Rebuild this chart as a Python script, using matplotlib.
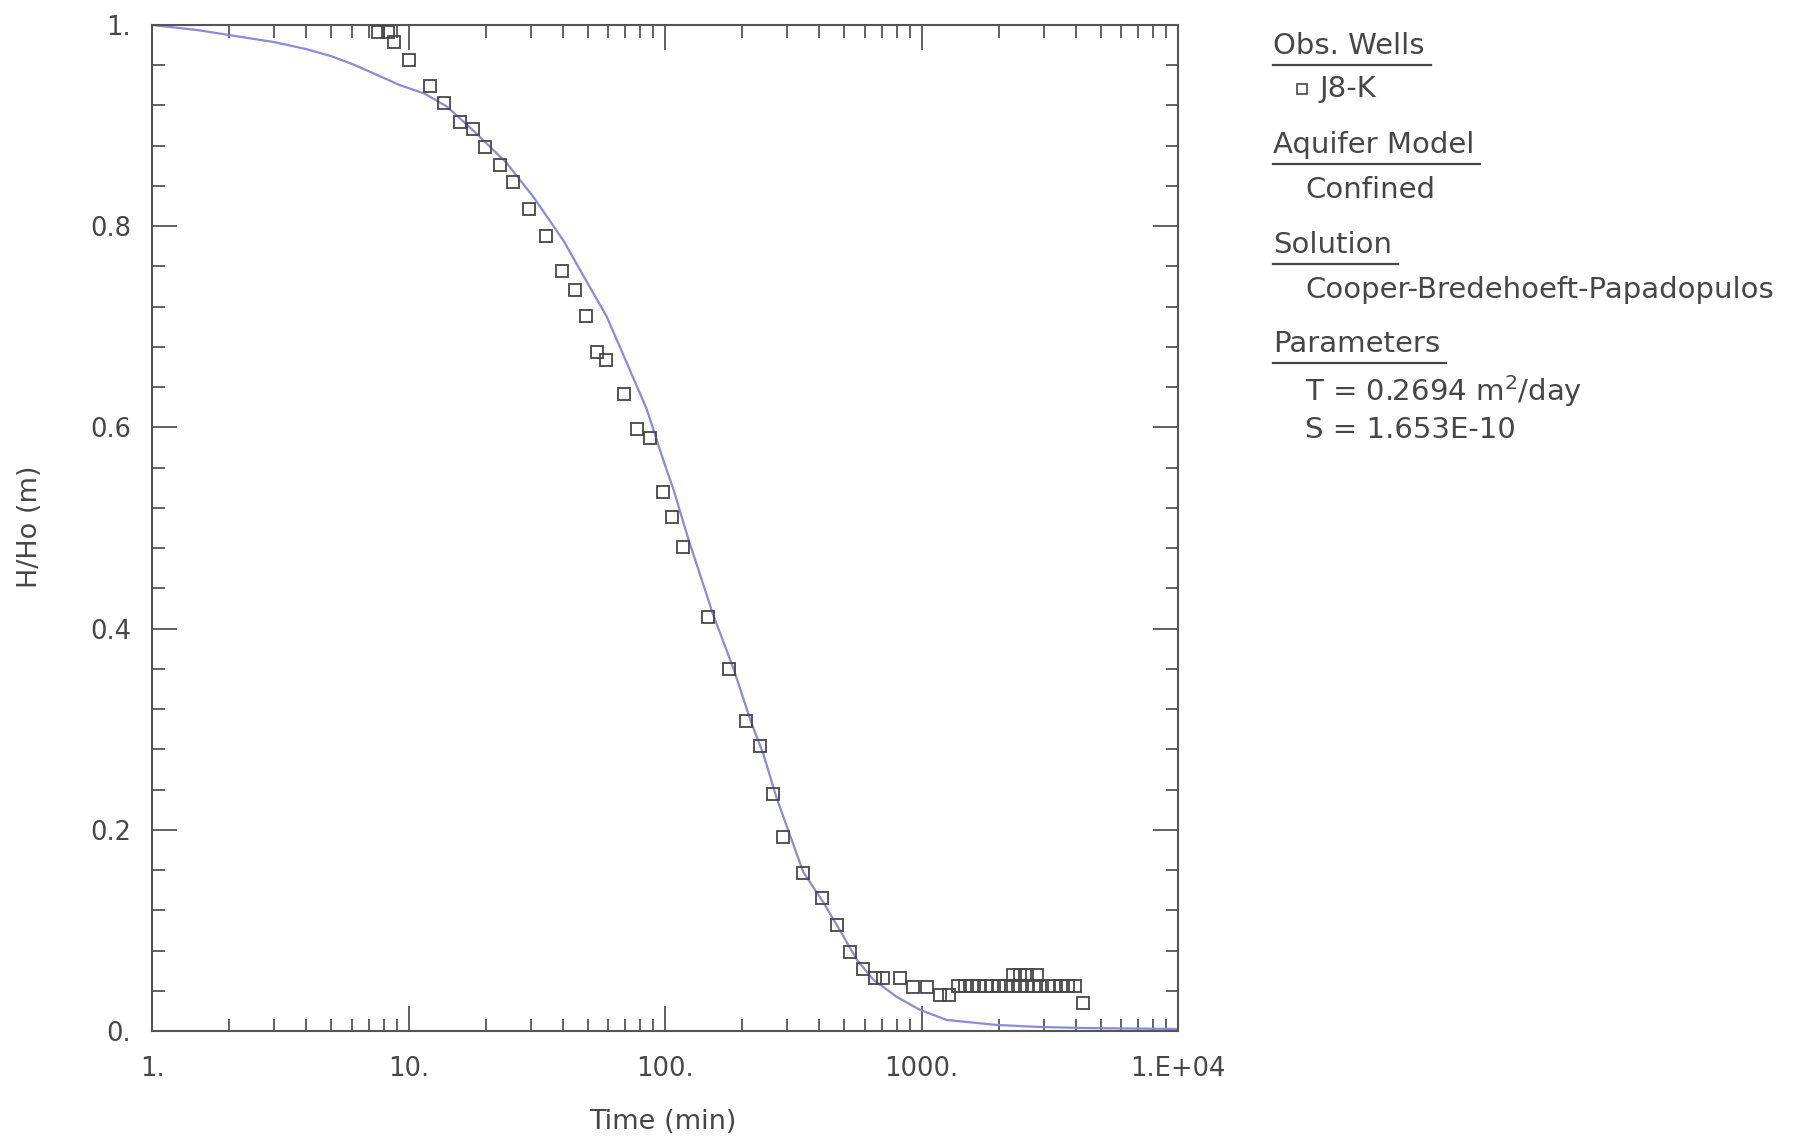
import numpy as np
import matplotlib
matplotlib.use("Agg")
import matplotlib.pyplot as plt
from matplotlib.ticker import LogLocator, NullFormatter, MultipleLocator, FixedLocator
from matplotlib.lines import Line2D

# ---------------- data ----------------
# observed well J8-K: time (min), H/Ho (m)
t_obs = [7.6, 8.3, 8.8, 10.0, 12.1, 13.8, 15.9, 17.9, 19.9, 22.8, 25.5, 29.5,
         34.5, 39.5, 44.6, 49.1, 54.3, 58.9, 69.0, 77.5, 87.6, 98.5, 106.5, 118,
         147.5, 177, 207.5, 234, 264, 289, 344, 408, 470, 526, 590, 659, 710, 825,
         929, 1048, 1180, 1283,
         1390, 1480, 1570, 1670, 1780, 1890, 2010, 2140, 2270, 2420, 2570, 2740,
         2910, 3100, 3290, 3500, 3730, 3960,
         2280, 2420, 2580, 2820,
         4250]
h_obs = [0.993, 0.993, 0.983, 0.965, 0.939, 0.922, 0.904, 0.897, 0.879, 0.861, 0.844, 0.817,
         0.790, 0.755, 0.737, 0.711, 0.675, 0.667, 0.633, 0.598, 0.589, 0.536, 0.511, 0.481,
         0.412, 0.360, 0.308, 0.283, 0.236, 0.193, 0.157, 0.132, 0.105, 0.079, 0.062, 0.053, 0.053, 0.053,
         0.044, 0.044, 0.036, 0.036,
         0.045, 0.045, 0.045, 0.045, 0.045, 0.045, 0.045, 0.045, 0.045, 0.045, 0.045, 0.045,
         0.045, 0.045, 0.045, 0.045, 0.045, 0.045,
         0.056, 0.056, 0.056, 0.056,
         0.0275]

# Cooper-Bredehoeft-Papadopulos fitted curve
t_fit = [1.0, 1.5, 2.0, 3.0, 4.0, 5.0, 6.2, 7.6, 9.3, 11.5, 14.1, 17.9, 24.1, 30.7,
         40.1, 49.5, 59.3, 71.0, 84.9, 98.6, 108, 123, 154, 185, 216, 242, 272,
         322, 346, 414, 481, 559, 649, 800, 986, 1253, 1963, 2900, 4270, 10000]
h_fit = [1.000, 0.995, 0.990, 0.983, 0.976, 0.969, 0.960, 0.950, 0.940, 0.932, 0.919, 0.895,
         0.863, 0.829, 0.786, 0.745, 0.710, 0.664, 0.618, 0.567, 0.538, 0.490, 0.414, 0.360,
         0.308, 0.275, 0.232, 0.180, 0.158, 0.128, 0.100, 0.071, 0.051, 0.034, 0.021, 0.011,
         0.006, 0.004, 0.003, 0.002]

x_ticks = [1, 10, 100, 1000, 10000]
x_ticklabels = ["1.", "10.", "100.", "1000.", "1.E+04"]
y_ticks = [0.0, 0.2, 0.4, 0.6, 0.8, 1.0]
y_ticklabels = ["0.", "0.2", "0.4", "0.6", "0.8", "1."]

legend_headers = ["Obs. Wells", "Aquifer Model", "Solution", "Parameters"]
well_name = "J8-K"
aquifer_model = "Confined"
solution_name = "Cooper-Bredehoeft-Papadopulos"
param_lines = ["T = 0.2694 m$^2$/day", "S = 1.653E-10"]

# ---------------- figure ----------------
W, H = 1793, 1147
plt.rcParams['font.family'] = ['DejaVu Sans']
fig = plt.figure(figsize=(W / 100, H / 100), dpi=100)
fig.patch.set_facecolor('white')

L, R, T, B = 152, 1178, 25, 1031
ax = fig.add_axes([L / W, 1 - B / H, (R - L) / W, (B - T) / H])
ax.set_xscale('log')
ax.set_xlim(1, 1e4)
ax.set_ylim(0, 1)

axc = '#555555'
txtc = '#464646'

ax.plot(t_fit, h_fit, color='#8b8bd6', lw=1.6, zorder=2)
ax.plot(t_obs, h_obs, ls='none', marker='s', ms=8.6, mfc='none',
        mec='#474747', mew=1.3, clip_on=False, zorder=3)

ax.xaxis.set_major_locator(FixedLocator(x_ticks))
ax.set_xticklabels(x_ticklabels)
ax.xaxis.set_minor_locator(LogLocator(base=10, subs=range(2, 10), numticks=20))
ax.xaxis.set_minor_formatter(NullFormatter())
ax.set_yticks(y_ticks)
ax.set_yticklabels(y_ticklabels)
ax.yaxis.set_minor_locator(MultipleLocator(0.04))

ax.tick_params(which='both', direction='in', top=True, right=True,
               color=axc, labelcolor=txtc, labelsize=18.5)
ax.tick_params(which='major', length=18, width=1.3)
ax.tick_params(which='minor', length=9, width=1.3)
ax.tick_params(axis='x', which='major', pad=18)
ax.tick_params(axis='y', which='major', pad=15)
for s in ax.spines.values():
    s.set_color(axc)
    s.set_linewidth(1.5)

# axis labels
fig.text(663 / W, 1 - 1122 / H, "Time (min)", ha='center', va='center',
         fontsize=19.5, color=txtc)
fig.text(30 / W, 1 - 527 / H, "H/Ho (m)", ha='center', va='center',
         rotation=90, fontsize=19.5, color=txtc)

# ---------------- side legend ----------------
def fx(x):
    return x / W

def fy(y):
    return 1 - y / H

fs = 21
hx, ix = 1273, 1305
header_y = [46, 145, 245, 344]
htexts = []
for s, y in zip(legend_headers, header_y):
    htexts.append((fig.text(fx(hx), fy(y), s, ha='left', va='center', fontsize=fs, color=txtc), y))

fig.add_artist(Line2D([fx(1302)], [fy(89)], marker='s', ms=7, mfc='none', mec='#474747',
                      mew=1.2, ls='none', transform=fig.transFigure))
fig.text(fx(1320), fy(89), well_name, ha='left', va='center', fontsize=fs, color=txtc)
fig.text(fx(ix), fy(190), aquifer_model, ha='left', va='center', fontsize=fs, color=txtc)
fig.text(fx(ix), fy(290), solution_name, ha='left', va='center', fontsize=fs, color=txtc)
fig.text(fx(ix), fy(391), param_lines[0], ha='left', va='center', fontsize=fs, color=txtc)
fig.text(fx(ix), fy(430), param_lines[1], ha='left', va='center', fontsize=fs, color=txtc)

fig.canvas.draw()
r = fig.canvas.get_renderer()
for t, y in htexts:
    bb = t.get_window_extent(renderer=r)
    fig.add_artist(Line2D([bb.x0 / W, (bb.x1 + 6) / W], [fy(y + 19)] * 2,
                          transform=fig.transFigure, color=txtc, lw=1.6))

fig.savefig("out.png", dpi=100, facecolor='white')
